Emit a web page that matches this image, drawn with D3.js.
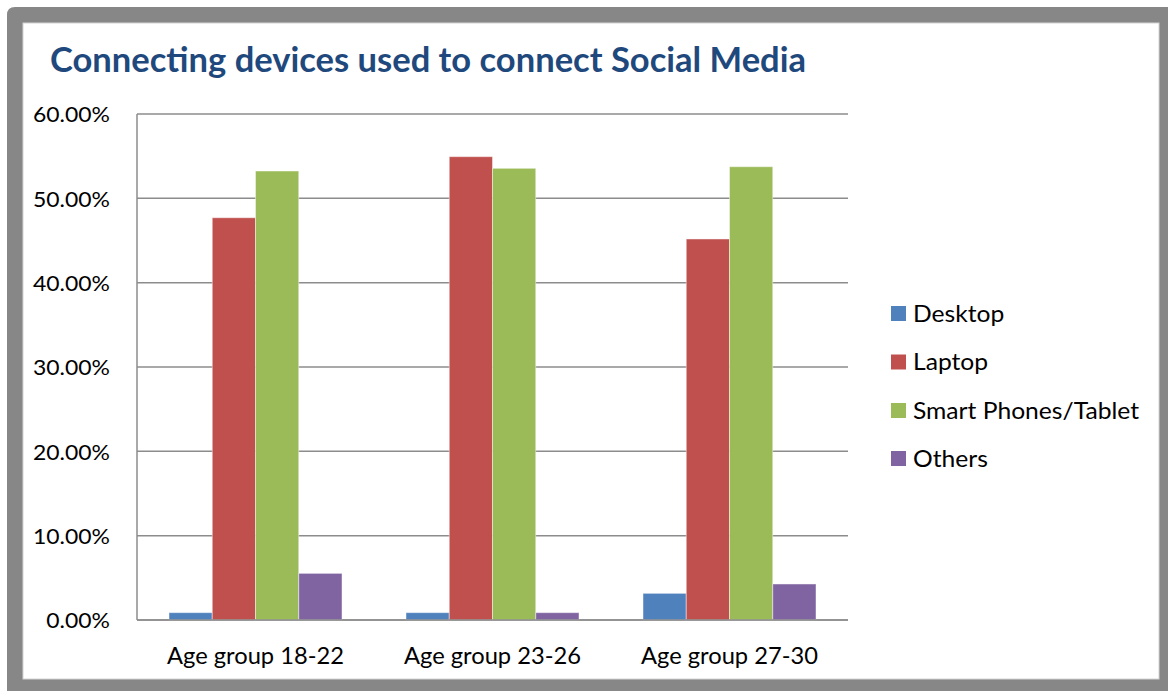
<!DOCTYPE html>
<html>
<head>
<meta charset="utf-8">
<script src="https://cdn.jsdelivr.net/npm/d3@7"></script>
<style>
  html, body { margin: 0; padding: 0; background: #ffffff; }
  svg { display: block; }
  text { font-family: Lato, "Open Sans", "DejaVu Sans", sans-serif; }
</style>
</head>
<body>
<svg id="chart" width="1168" height="691"></svg>
<script>
// Age groups on the x axis
const categories = ["Age group 18-22", "Age group 23-26", "Age group 27-30"];
// Device types (one bar per device in each age group)
const seriesNames = ["Desktop", "Laptop", "Smart Phones/Tablet", "Others"];
const seriesColors = ["#4F81BD", "#C0504D", "#9BBB59", "#8064A2"];
// Share of respondents per device, in percent, by age group
const desktopValues = [0.87, 0.87, 3.16];
const laptopValues = [47.7, 54.94, 45.18];
const smartValues = [53.24, 53.56, 53.75];
const othersValues = [5.53, 0.87, 4.27];
const seriesValues = [desktopValues, laptopValues, smartValues, othersValues];
// Y axis ticks
const yTicks = [0, 10, 20, 30, 40, 50, 60];
const titleText = "Connecting devices used to connect Social Media";

const svg = d3.select("#chart");
const W = 1168, H = 691;

// Frame: grey border around a white panel
svg.append("rect").attr("x", 0).attr("y", 0).attr("width", W).attr("height", H).attr("fill", "#ffffff");
svg.append("path")
  .attr("d", "M7,15 Q7,7 15,7 L1168,7 L1168,691 L7,691 Z")
  .attr("fill", "#878787");
svg.append("rect").attr("x", 23).attr("y", 23).attr("width", 1136).attr("height", 656)
  .attr("fill", "#ffffff").attr("stroke", "#d4d4d4").attr("stroke-width", 1);

// Condense a group of labels so that the reference label spans the target width,
// keeping the same horizontal squeeze for every label in the group
function condense(sel, refSel, target) {
  const ratio = target / refSel.node().getComputedTextLength();
  sel.each(function () {
    const w = this.getComputedTextLength();
    d3.select(this).attr("textLength", w * ratio).attr("lengthAdjust", "spacingAndGlyphs");
  });
}

// Title
const title = svg.append("text")
  .attr("x", 50).attr("y", 72)
  .attr("font-size", 35).attr("font-weight", "bold")
  .attr("fill", "#1F497D")
  .text(titleText);
condense(title, title, 756);

// Plot area
const plot = { left: 137, right: 848, top: 114, bottom: 620 };

const y = d3.scaleLinear().domain([0, 60]).range([plot.bottom, plot.top]);
const x0 = d3.scaleBand().domain(categories).range([plot.left, plot.right]).padding(0);
const x1 = d3.scaleBand().domain(seriesNames).range([0, x0.bandwidth()])
  .paddingInner(0).paddingOuter(0.74);

// Gridlines
svg.append("g")
  .selectAll("line")
  .data(yTicks)
  .join("line")
  .attr("x1", plot.left).attr("x2", plot.right)
  .attr("y1", d => y(d)).attr("y2", d => y(d))
  .attr("stroke", "#8c8c8c").attr("stroke-width", 1.5);

// Y axis line
svg.append("line")
  .attr("x1", plot.left).attr("x2", plot.left)
  .attr("y1", plot.top).attr("y2", plot.bottom)
  .attr("stroke", "#8c8c8c").attr("stroke-width", 1.5);

// Y tick labels
const yAxis = d3.axisLeft(y).tickValues(yTicks).tickSize(0).tickPadding(0)
  .tickFormat(d => d3.format(".2f")(d) + "%");
const yG = svg.append("g").attr("transform", `translate(110,0)`).call(yAxis);
yG.select(".domain").remove();
yG.selectAll("text")
  .attr("font-size", 22).attr("fill", "#000000").attr("dy", "0.36em")
  .attr("font-family", "Lato, 'Open Sans', sans-serif");
condense(yG.selectAll("text"), yG.selectAll("text").filter(d => d === 60), 77);

// Bars
const groups = svg.append("g")
  .selectAll("g")
  .data(categories)
  .join("g")
  .attr("transform", d => `translate(${x0(d)},0)`);

groups.selectAll("rect")
  .data((c, ci) => seriesNames.map((s, si) => ({ series: s, value: seriesValues[si][ci], color: seriesColors[si] })))
  .join("rect")
  .attr("x", d => x1(d.series))
  .attr("width", x1.bandwidth())
  .attr("y", d => y(d.value))
  .attr("height", d => y(0) - y(d.value))
  .attr("fill", d => d.color)
  .attr("stroke", "rgba(255,255,255,0.45)")
  .attr("stroke-width", 1);

// Baseline drawn over the bars
svg.append("line")
  .attr("x1", plot.left).attr("x2", plot.right)
  .attr("y1", y(0)).attr("y2", y(0))
  .attr("stroke", "#8c8c8c").attr("stroke-width", 1.5);

// Category labels
const xAxis = d3.axisBottom(x0).tickSize(0).tickPadding(0);
const xG = svg.append("g").attr("transform", `translate(0,664)`).call(xAxis);
xG.select(".domain").remove();
xG.selectAll("text")
  .attr("font-size", 23).attr("fill", "#000000").attr("dy", 0)
  .attr("font-family", "Lato, 'Open Sans', sans-serif");
condense(xG.selectAll("text"), xG.selectAll("text").filter(d => d === categories[0]), 177);

// Legend
const legendTop = [306, 354.5, 403, 451];
const legend = svg.append("g")
  .selectAll("g")
  .data(seriesNames)
  .join("g")
  .attr("transform", (d, i) => `translate(891,${legendTop[i]})`);

legend.append("rect")
  .attr("width", 15).attr("height", 15)
  .attr("fill", (d, i) => seriesColors[i]);

const legendText = legend.append("text")
  .attr("x", 22).attr("y", 15.5)
  .attr("font-size", 23).attr("fill", "#000000")
  .text(d => d);
condense(legendText, legendText.filter(d => d === "Smart Phones/Tablet"), 226);
</script>
</body>
</html>
